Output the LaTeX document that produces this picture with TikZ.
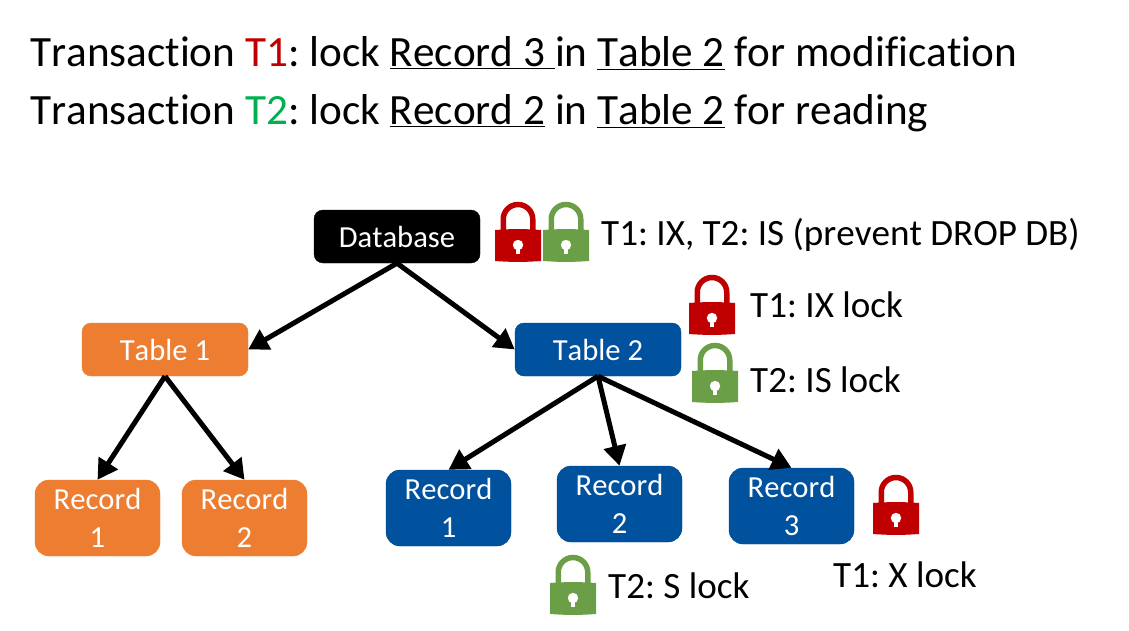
\documentclass[tikz,border=0pt]{standalone}
\usepackage{fontspec}
\setmainfont{Carlito}[Ligatures=NoCommon,Kerning=Off]
\frenchspacing
\usetikzlibrary{arrows.meta}
\definecolor{kred}{HTML}{C00000}
\definecolor{kgreen}{HTML}{6A9F47}
\definecolor{ktext}{HTML}{00B050}
\definecolor{kblue}{HTML}{00519E}
\definecolor{korange}{HTML}{ED7D31}
\tikzset{
  box/.style={inner sep=0pt,align=center,text=white,font=\fontsize{30.6}{38}\selectfont},
  tabbox/.style={box,rounded corners=9pt,minimum width=166pt,minimum height=53pt},
  recbox/.style={box,rounded corners=14pt,minimum width=125pt,minimum height=76pt},
  orangebox/.style={fill=korange,draw=korange},
  bluebox/.style={fill=kblue,draw=kblue!85!black},
  headline/.style={anchor=base west,inner sep=0pt,font=\fontsize{43.2}{43.2}\selectfont},
  locklabel/.style={anchor=base west,inner sep=0pt,font=\fontsize{37.1}{37.1}\selectfont},
  link/.style={line width=5pt,-{Triangle[length=20pt,width=22pt]}},
  padlock/.pic={
    \draw[pic actions,fill=none,line width=5.5pt](-14.75,3)--(-14.75,-9.75) arc[start angle=180,end angle=360,radius=14.75]--(14.75,3);
    \fill[pic actions,draw=none](-23,1)to[bend left=4](23,1)--(23,32)to[bend left=4](-23,32)--cycle;
    \fill[white](0,16)circle(5.2);
    \fill[white](-2,16)rectangle(2,25);
  }
}
\begin{document}
\begin{tikzpicture}[x=1pt,y=-1pt]
\useasboundingbox(0,0)rectangle(1129,631);
\node[headline](line1)at(30,67){Transaction \textcolor{kred}{T1}: lock \underline{Record 3\ }in \underline{Table 2} for modification};
\node[headline](line2)at(30,125){Transaction \textcolor{ktext}{T2}: lock \underline{Record 2} in \underline{Table 2} for reading};
% tree
\node[tabbox,fill=black,draw=black](db)at(397,236.5){Database};
\node[tabbox,orangebox](tb1)at(165,349.5){Table 1};
\node[tabbox,bluebox](tb2)at(598,349.5){Table 2};
\node[recbox,orangebox](ra)at(97.5,518){Record\\1};
\node[recbox,orangebox](rb)at(244.5,518){Record\\2};
\node[recbox,bluebox](rc)at(448.5,508){Record\\1};
\node[recbox,bluebox](rd)at(619.5,504){Record\\2};
\node[recbox,bluebox](re)at(791.5,506){Record\\3};
\draw[link](db.south)--(tb1.east);
\draw[link](db.south)--(tb2.west);
\draw[link](tb1.south)--(ra.north);
\draw[link](tb1.south)--(rb.north);
\draw[link](tb2.south)--(rc.north);
\draw[link](tb2.south)--(rd.north);
\draw[link](tb2.south)--(re.north);
% locks
\pic[draw=kred,fill=kred]at(518,229){padlock};
\pic[draw=kgreen,fill=kgreen]at(566,229){padlock};
\pic[draw=kred,fill=kred]at(712,302){padlock};
\pic[draw=kgreen,fill=kgreen]at(715,370){padlock};
\pic[draw=kgreen,fill=kgreen]at(573,582){padlock};
\pic[draw=kred,fill=kred]at(896,502){padlock};
\node[locklabel](ldb)at(601,245){T1: IX, T2: IS (prevent DROP DB)};
\node[locklabel](lix)at(750,317){T1: IX lock};
\node[locklabel](lis)at(750,392){T2: IS lock};
\node[locklabel](ls)at(608,598){T2: S lock};
\node[locklabel](lx)at(833,587){T1: X lock};
\end{tikzpicture}
\end{document}
